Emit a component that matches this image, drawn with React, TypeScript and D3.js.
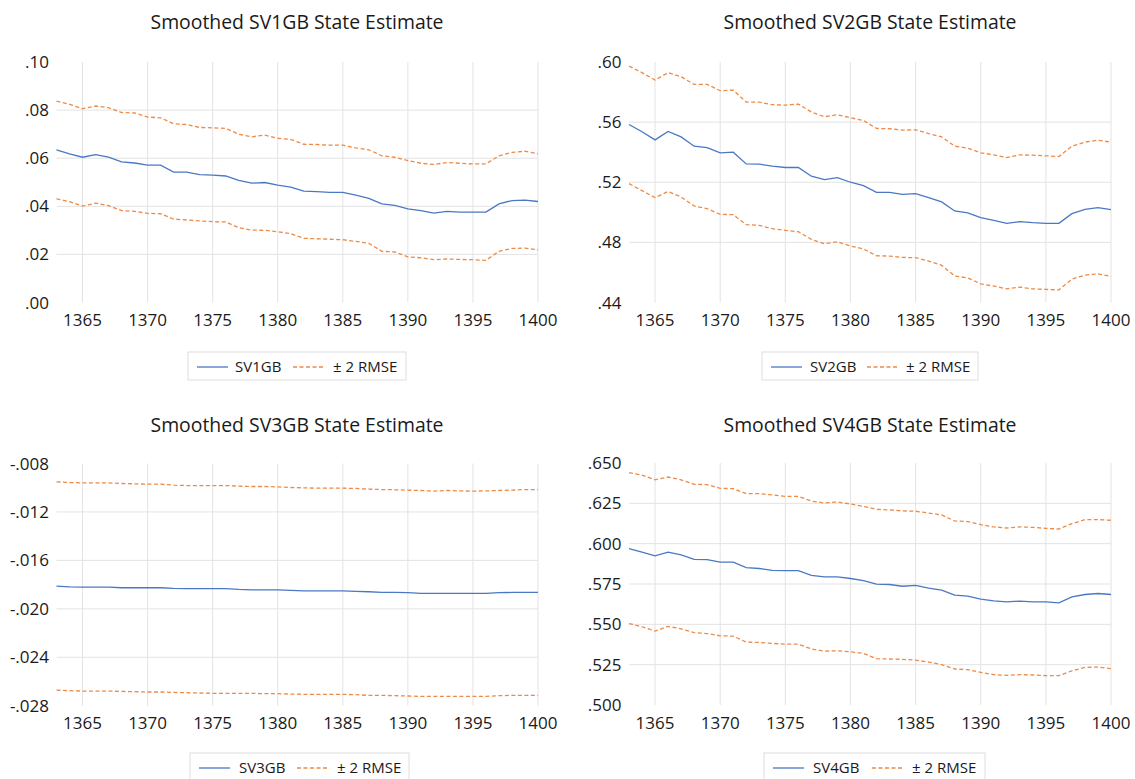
import React from "react";
import * as d3 from "d3";

const years = d3.range(1363, 1401);

const xTicks = [1365, 1370, 1375, 1380, 1385, 1390, 1395, 1400];

const sv1Main = [0.0635, 0.0618, 0.0604, 0.0615, 0.0604, 0.0585, 0.058, 0.0571, 0.0571, 0.0542, 0.0542, 0.0532, 0.053, 0.0526, 0.0508, 0.0496, 0.0499, 0.0488, 0.048, 0.0463, 0.0461, 0.0458, 0.0458, 0.0446, 0.0433, 0.041, 0.0404, 0.0389, 0.0382, 0.0372, 0.0379, 0.0376, 0.0376, 0.0376, 0.041, 0.0424, 0.0426, 0.042];
const sv1Upper = [0.0837, 0.0824, 0.0806, 0.0817, 0.081, 0.079, 0.0788, 0.0771, 0.0768, 0.0743, 0.074, 0.0728, 0.0726, 0.0724, 0.07, 0.0689, 0.0696, 0.0683, 0.0678, 0.0658, 0.0657, 0.0654, 0.0654, 0.0643, 0.0635, 0.061, 0.0604, 0.059, 0.0579, 0.0574, 0.0582, 0.0579, 0.0576, 0.0576, 0.061, 0.0624, 0.0629, 0.0618];
const sv1Lower = [0.0431, 0.0419, 0.0401, 0.0413, 0.0403, 0.0382, 0.0379, 0.0371, 0.0369, 0.0347, 0.0343, 0.0339, 0.0336, 0.0335, 0.0311, 0.0301, 0.03, 0.0294, 0.0286, 0.0267, 0.0265, 0.0263, 0.0261, 0.0254, 0.0246, 0.0213, 0.021, 0.019, 0.0186, 0.0178, 0.0181, 0.0179, 0.0178, 0.0175, 0.0213, 0.0225, 0.0226, 0.0219];

const sv2Main = [0.5584, 0.5536, 0.5482, 0.5538, 0.5502, 0.544, 0.5431, 0.5396, 0.54, 0.5322, 0.532, 0.5307, 0.5298, 0.5298, 0.524, 0.5218, 0.5231, 0.52, 0.5178, 0.5133, 0.5133, 0.512, 0.5124, 0.5098, 0.5069, 0.5009, 0.4996, 0.4964, 0.4947, 0.4927, 0.4938, 0.4931, 0.4927, 0.4927, 0.4991, 0.502, 0.5031, 0.5018];
const sv2Upper = [0.5973, 0.5929, 0.588, 0.5929, 0.5902, 0.5851, 0.5851, 0.5809, 0.5813, 0.5733, 0.5733, 0.5716, 0.5713, 0.572, 0.5667, 0.5636, 0.5649, 0.5629, 0.5611, 0.5558, 0.5556, 0.5547, 0.5549, 0.5524, 0.5502, 0.544, 0.5427, 0.5396, 0.5382, 0.5364, 0.5382, 0.538, 0.5376, 0.5371, 0.544, 0.5467, 0.548, 0.5467];
const sv2Lower = [0.5191, 0.5144, 0.5098, 0.5138, 0.5102, 0.5042, 0.5024, 0.4987, 0.4984, 0.4918, 0.4913, 0.4891, 0.488, 0.4871, 0.482, 0.4791, 0.4804, 0.4776, 0.4756, 0.4711, 0.4709, 0.47, 0.4698, 0.4676, 0.4647, 0.4576, 0.4564, 0.4524, 0.4509, 0.4491, 0.4502, 0.4491, 0.4487, 0.4484, 0.4556, 0.4582, 0.4591, 0.4573];

const sv3Main = [-0.01812, -0.01818, -0.01821, -0.01821, -0.01821, -0.01826, -0.01826, -0.01826, -0.01826, -0.01832, -0.01834, -0.01834, -0.01834, -0.01834, -0.0184, -0.01843, -0.01843, -0.01843, -0.01848, -0.01851, -0.01851, -0.01851, -0.01851, -0.01856, -0.01859, -0.01865, -0.01865, -0.01867, -0.01873, -0.01873, -0.01873, -0.01873, -0.01873, -0.01873, -0.01867, -0.01865, -0.01865, -0.01865];
const sv3Upper = [-0.00951, -0.00957, -0.0096, -0.0096, -0.0096, -0.00965, -0.00968, -0.00971, -0.00971, -0.00979, -0.00982, -0.00982, -0.00982, -0.00982, -0.00987, -0.0099, -0.0099, -0.00993, -0.00998, -0.01001, -0.01004, -0.01004, -0.01004, -0.01006, -0.01012, -0.01015, -0.01017, -0.0102, -0.01023, -0.01028, -0.01023, -0.01026, -0.01028, -0.01026, -0.01023, -0.0102, -0.01015, -0.01015];
const sv3Lower = [-0.02671, -0.02676, -0.02679, -0.02679, -0.02679, -0.02682, -0.02684, -0.02687, -0.02687, -0.0269, -0.02693, -0.02695, -0.02698, -0.02698, -0.02698, -0.02698, -0.02701, -0.02701, -0.02704, -0.02706, -0.02706, -0.02706, -0.02706, -0.02709, -0.02715, -0.02715, -0.02717, -0.0272, -0.02723, -0.02723, -0.02723, -0.02723, -0.02723, -0.02723, -0.02717, -0.02715, -0.02715, -0.02715];

const sv4Main = [0.5969, 0.5947, 0.5924, 0.5947, 0.593, 0.5903, 0.5901, 0.5885, 0.5885, 0.5852, 0.5846, 0.5835, 0.5833, 0.5833, 0.5804, 0.5794, 0.5794, 0.5784, 0.5771, 0.5749, 0.5747, 0.5736, 0.5741, 0.5724, 0.5712, 0.5681, 0.5675, 0.5656, 0.5646, 0.5639, 0.5644, 0.5639, 0.5639, 0.5633, 0.567, 0.5685, 0.5691, 0.5685];
const sv4Upper = [0.644, 0.6425, 0.6396, 0.6413, 0.6396, 0.6368, 0.6366, 0.6343, 0.6341, 0.631, 0.631, 0.6302, 0.6293, 0.6293, 0.6264, 0.6252, 0.6258, 0.6246, 0.6231, 0.6213, 0.6209, 0.6203, 0.6201, 0.619, 0.6178, 0.6141, 0.6137, 0.6118, 0.6104, 0.6097, 0.6104, 0.6101, 0.6095, 0.6091, 0.6124, 0.6149, 0.6149, 0.6145];
const sv4Lower = [0.5505, 0.5485, 0.5458, 0.5487, 0.5472, 0.5448, 0.5443, 0.5429, 0.5427, 0.539, 0.5388, 0.5382, 0.5377, 0.5377, 0.5347, 0.5334, 0.5336, 0.533, 0.532, 0.5287, 0.5285, 0.5283, 0.5278, 0.5266, 0.525, 0.5223, 0.5219, 0.5202, 0.5188, 0.5184, 0.5188, 0.5186, 0.5182, 0.5182, 0.5212, 0.5233, 0.5235, 0.5225];

const sv1YTicks = [0, 0.02, 0.04, 0.06, 0.08, 0.1];
const sv2YTicks = [0.44, 0.48, 0.52, 0.56, 0.6];
const sv3YTicks = [-0.028, -0.024, -0.02, -0.016, -0.012, -0.008];
const sv4YTicks = [0.5, 0.525, 0.55, 0.575, 0.6, 0.625, 0.65];

const BLUE = "#4a78c4";
const ORANGE = "#ee8a45";
const GRID = "#e3e3e3";
const FONT = "'Open Sans', Lato, sans-serif";
const TEXT = "#1a1a1a";

type PanelProps = {
  title: string;
  name: string;
  main: number[];
  upper: number[];
  lower: number[];
  yTicks: number[];
  decimals: number;
  x0: number; x1: number; y0: number; y1: number;
  titleX: number; titleY: number;
  legend: { bx: number; by: number; bw: number; bh: number; l1: number; t1: number; l2: number; t2: number; ly: number };
};

function fmt(v: number, d: number) {
  const s = d3.format(`.${d}f`)(v).replace("\u2212", "-");
  return s.replace(/^(-?)0\./, "$1.");
}

function Panel(p: PanelProps) {
  const x = d3.scaleLinear().domain([1363, 1400]).range([p.x0, p.x1]);
  const y = d3.scaleLinear().domain([p.yTicks[0], p.yTicks[p.yTicks.length - 1]]).range([p.y1, p.y0]);
  const line = d3.line<number>().x((_, i) => x(years[i])).y((d) => y(d));
  const inner = p.yTicks.slice(1, -1);
  const L = p.legend;
  return (
    <g>
      <text x={p.titleX} y={p.titleY} textAnchor="middle" fontSize={19.4} fill={TEXT} fontFamily={FONT}>{p.title}</text>
      {inner.map((t) => (
        <line key={"h" + t} x1={p.x0} x2={p.x1} y1={y(t)} y2={y(t)} stroke={GRID} strokeWidth={1} />
      ))}
      {xTicks.map((t) => (
        <line key={"v" + t} x1={x(t)} x2={x(t)} y1={p.y0} y2={p.y1} stroke={GRID} strokeWidth={1} />
      ))}
      {p.yTicks.map((t) => (
        <text key={"yl" + t} x={p.x0 - 7.5} y={y(t) + 6} textAnchor="end" fontSize={17} fill={TEXT} fontFamily={FONT}>{fmt(t, p.decimals)}</text>
      ))}
      {xTicks.map((t) => (
        <text key={"xl" + t} x={x(t)} y={p.y1 + 23.5} textAnchor="middle" fontSize={17} fill={TEXT} fontFamily={FONT}>{t}</text>
      ))}
      <path d={line(p.upper) || ""} fill="none" stroke={ORANGE} strokeWidth={1.3} strokeDasharray="4,2.5" />
      <path d={line(p.lower) || ""} fill="none" stroke={ORANGE} strokeWidth={1.3} strokeDasharray="4,2.5" />
      <path d={line(p.main) || ""} fill="none" stroke={BLUE} strokeWidth={1.3} />
      <rect x={L.bx} y={L.by} width={L.bw} height={L.bh} fill="#fff" stroke="#dedede" strokeWidth={1} />
      <line x1={L.l1} x2={L.l1 + 31} y1={L.ly} y2={L.ly} stroke={BLUE} strokeWidth={1.3} />
      <text x={L.t1} y={L.ly + 5} fontSize={15} fill={TEXT} fontFamily={FONT}>{p.name}</text>
      <line x1={L.l2} x2={L.l2 + 31} y1={L.ly} y2={L.ly} stroke={ORANGE} strokeWidth={1.3} strokeDasharray="4,2.5" />
      <text x={L.t2} y={L.ly + 5} fontSize={15} fill={TEXT} fontFamily={FONT}>± 2 RMSE</text>
    </g>
  );
}

export default function App() {
  return (
    <svg width={1135} height={779} style={{ position: "absolute", left: 0, top: 0, background: "#fff" }}>
      <rect x={0} y={0} width={1135} height={779} fill="#fff" />
      <Panel title="Smoothed SV1GB State Estimate" name="SV1GB" main={sv1Main} upper={sv1Upper} lower={sv1Lower}
        yTicks={sv1YTicks} decimals={2} x0={56.5} x1={538} y0={62} y1={302.5} titleX={297} titleY={28.7}
        legend={{ bx: 188, by: 352, bw: 218, bh: 28, l1: 197, t1: 235, l2: 293, t2: 333, ly: 367 }} />
      <Panel title="Smoothed SV2GB State Estimate" name="SV2GB" main={sv2Main} upper={sv2Upper} lower={sv2Lower}
        yTicks={sv2YTicks} decimals={2} x0={629} x1={1111} y0={62} y1={302.5} titleX={870} titleY={28.7}
        legend={{ bx: 762, by: 352, bw: 216, bh: 28, l1: 771, t1: 810, l2: 867, t2: 906, ly: 367 }} />
      <Panel title="Smoothed SV3GB State Estimate" name="SV3GB" main={sv3Main} upper={sv3Upper} lower={sv3Lower}
        yTicks={sv3YTicks} decimals={3} x0={56.5} x1={538} y0={463.5} y1={705.7} titleX={297} titleY={432}
        legend={{ bx: 190, by: 753, bw: 219, bh: 30, l1: 199, t1: 239, l2: 297, t2: 337, ly: 768 }} />
      <Panel title="Smoothed SV4GB State Estimate" name="SV4GB" main={sv4Main} upper={sv4Upper} lower={sv4Lower}
        yTicks={sv4YTicks} decimals={3} x0={629} x1={1111} y0={463} y1={705} titleX={870} titleY={432}
        legend={{ bx: 764, by: 753, bw: 221, bh: 30, l1: 773, t1: 813, l2: 872, t2: 912, ly: 768 }} />
    </svg>
  );
}
